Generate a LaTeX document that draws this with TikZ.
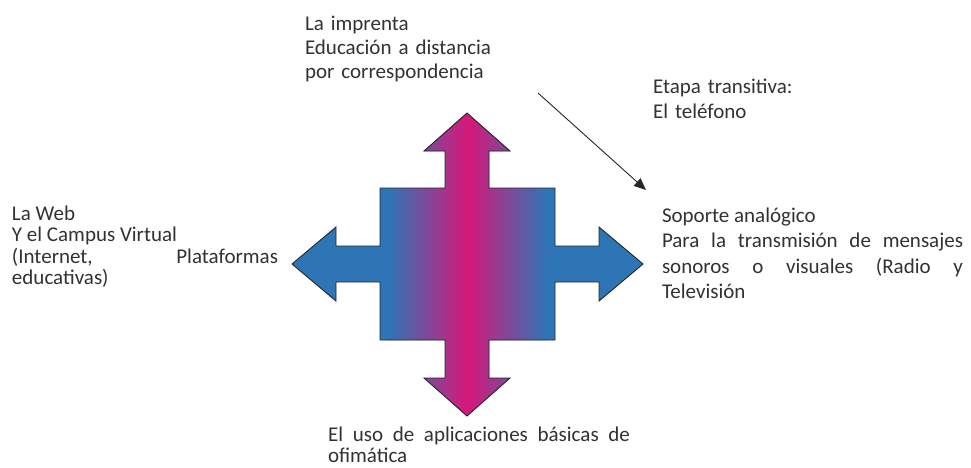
\documentclass[tikz,border=0pt]{standalone}
\usepackage{fontspec}
\setmainfont{Carlito}
\usetikzlibrary{arrows.meta}
\definecolor{armblue}{RGB}{46,117,182}
\definecolor{armmag}{RGB}{214,24,122}
\definecolor{txt}{RGB}{50,50,50}
\begin{document}
\begin{tikzpicture}[x=1pt,y=-1pt,
  lbl/.style={anchor=base west,inner sep=0pt,outer sep=0pt,text=txt,
    font=\fontsize{21}{24}\selectfont},
  jlbl/.style={lbl,align=justify,
    execute at begin node={\hyphenpenalty=10000\exhyphenpenalty=10000\tolerance=10000\emergencystretch=2em}},
  outline/.style={draw=black!85,line width=0.9pt,line join=miter}]
\useasboundingbox (0,0) rectangle (971,467);
\fill[white] (0,0) rectangle (971,467);
% cross-shaped four-way arrow
\def\crosspath{(467,113) -- (510,151) -- (489,151) -- (489,188) -- (555,188) -- (555,246) -- (599,246) -- (599,227) -- (643,264) -- (599,301) -- (599,282) -- (555,282) -- (555,340) -- (489,340) -- (489,378) -- (510,378) -- (467,416) -- (424,378) -- (445,378) -- (445,340) -- (380,340) -- (380,282) -- (336,282) -- (336,301) -- (292,264) -- (336,227) -- (336,246) -- (380,246) -- (380,188) -- (445,188) -- (445,151) -- (424,151) -- cycle}
\fill[armblue] \crosspath;
\begin{scope}
  \clip \crosspath;
  \shade[left color=armblue,right color=armblue,middle color=armmag] (388,110) rectangle (547,420);
\end{scope}
\draw[outline] \crosspath;
% texts
\node[lbl,align=left,text width=230pt] (top) at (305,30) {La imprenta\\Educación a distancia\\por correspondencia};
\node[lbl,align=left,text width=170pt,font=\fontsize{21}{25}\selectfont] (tel) at (653,93) {Etapa transitiva:\\El teléfono};
\node[jlbl,text width=266pt,font=\fontsize{21}{21.5}\selectfont] (web) at (12,220) {La Web\\Y el Campus Virtual\\(Internet, Plataformas\linebreak educativas)};
\node[jlbl,text width=301pt,font=\fontsize{21}{25.5}\selectfont] (ana) at (662,222) {Soporte analógico\\Para la transmisión de mensajes\linebreak sonoros o visuales (Radio y\linebreak Televisión};
\node[jlbl,text width=302pt,font=\fontsize{21}{21}\selectfont] (ofi) at (328,441) {El uso de aplicaciones básicas de\linebreak ofimática};
% transition arrow
\coordinate (a1) at (538,93);
\coordinate (a2) at (646,190);
\draw[black!85,line width=0.9pt,-{Triangle[length=12pt,width=10pt]}] (a1) -- (a2);
\end{tikzpicture}
\end{document}
